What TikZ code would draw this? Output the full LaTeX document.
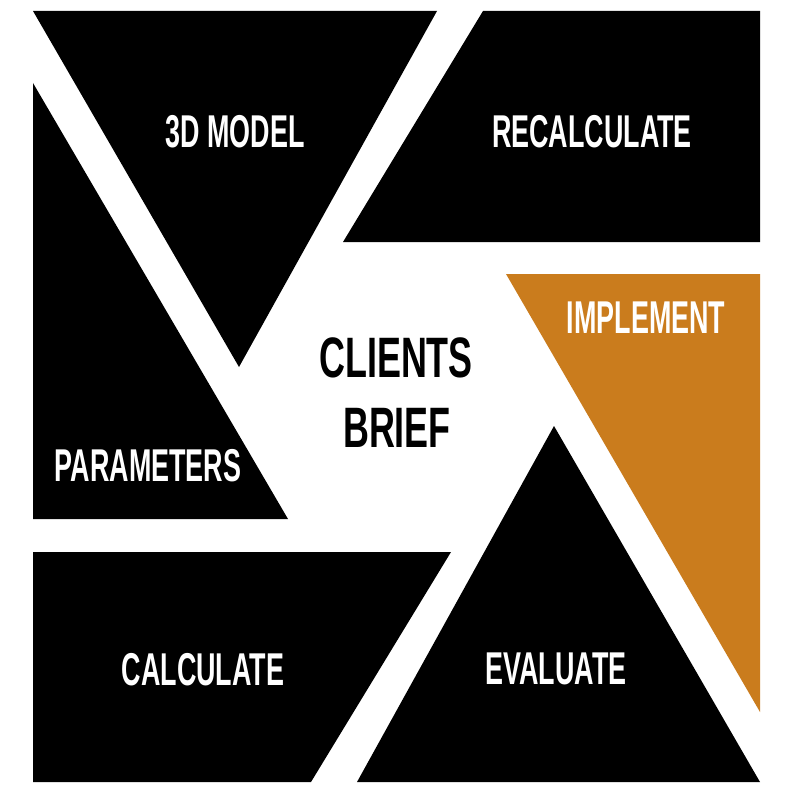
\documentclass[tikz,border=0pt]{standalone}
\usepackage{fontspec}
\newfontfamily\labelfont[FakeStretch=0.585]{Liberation Sans}
\newfontfamily\bigfont[FakeStretch=0.63]{Liberation Sans}
\definecolor{ochre}{RGB}{202,124,29}
\tikzset{
  panel/.style={fill=black},
  accent/.style={fill=ochre},
  lbl/.style={text=white,inner sep=0pt,font=\labelfont\bfseries\fontsize{46}{50}\selectfont},
  big/.style={text=black,inner sep=0pt,font=\bigfont\bfseries\fontsize{57}{60}\selectfont}
}
\begin{document}
\begin{tikzpicture}[x=1pt,y=-1pt]
\useasboundingbox (0,0) rectangle (794,794);
\fill[white] (0,0) rectangle (794,794);
% shapes
\path[panel] (33,11) -- (437,11) -- (239,367) -- cycle;
\path[panel] (483,11) -- (760,11) -- (760,242) -- (343,242) -- cycle;
\path[panel] (33,83) -- (288,519) -- (33,519) -- cycle;
\path[accent] (506,274) -- (760,274) -- (760,712) -- cycle;
\path[panel] (554,426) -- (760,782) -- (357,782) -- cycle;
\path[panel] (33,552) -- (451,552) -- (311,782) -- (33,782) -- cycle;
% labels
\node[lbl] (model) at (235,132) {3D MODEL};
\node[lbl] (recalc) at (592,132) {RECALCULATE};
\node[lbl] (implement) at (646,318) {IMPLEMENT};
\node[lbl] (param) at (148,466) {PARAMETERS};
\node[lbl] (calc) at (203,670) {CALCULATE};
\node[lbl] (eval) at (556,669) {EVALUATE};
\node[big] (clients) at (396,358) {CLIENTS};
\node[big] (brief) at (397,428) {BRIEF};
\end{tikzpicture}
\end{document}
